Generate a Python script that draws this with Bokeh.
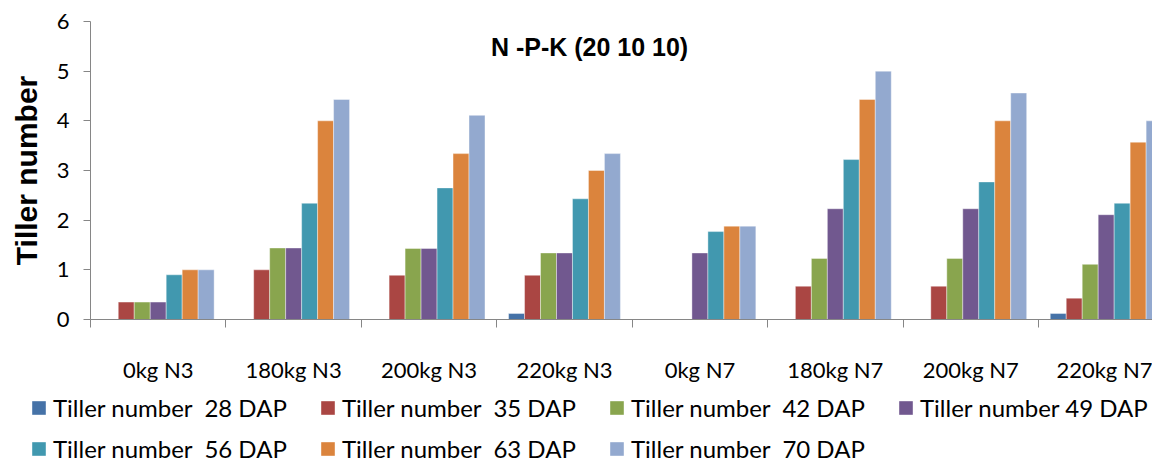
from bokeh.plotting import figure
from bokeh.layouts import column
from bokeh.models import Range1d, FixedTicker, Legend, LegendItem, Label, ColumnDataSource
from bokeh.embed import file_html
from bokeh.resources import INLINE

categories = ["0kg N3", "180kg N3", "200kg N3", "220kg N3",
              "0kg N7", "180kg N7", "200kg N7", "220kg N7"]
series_names = ["Tiller number  28 DAP", "Tiller number  35 DAP", "Tiller number  42 DAP",
                "Tiller number 49 DAP", "Tiller number  56 DAP", "Tiller number  63 DAP",
                "Tiller number  70 DAP"]
dap28 = [0, 0, 0, 0.12, 0, 0, 0, 0.12]
dap35 = [0.35, 1.0, 0.89, 0.89, 0, 0.67, 0.67, 0.43]
dap42 = [0.35, 1.44, 1.43, 1.34, 0, 1.23, 1.23, 1.11]
dap49 = [0.35, 1.44, 1.43, 1.34, 1.34, 2.23, 2.23, 2.11]
dap56 = [0.9, 2.34, 2.65, 2.43, 1.77, 3.22, 2.77, 2.34]
dap63 = [1.0, 4.0, 3.34, 3.0, 1.88, 4.43, 4.0, 3.57]
dap70 = [1.0, 4.43, 4.11, 3.34, 1.88, 5.0, 4.56, 4.0]
series = [dap28, dap35, dap42, dap49, dap56, dap63, dap70]
colors = ["#4572A7", "#AA4643", "#89A54E", "#71588F", "#4198AF", "#DB843D", "#93A9CF"]
title_text = "N -P-K (20 10 10)"
y_label = "Tiller number"

bar_w = 0.118
n = len(series)
centers = [i + 0.5 for i in range(len(categories))]

p = figure(width=1152, height=385, output_backend="svg", toolbar_location=None,
           x_range=Range1d(0, 7.842), y_range=Range1d(0, 6),
           min_border_left=90, min_border_right=0, min_border_top=21,
           min_border_bottom=64)
p.outline_line_color = None
p.grid.visible = False

sources = []
for j, vals in enumerate(series):
    xs = [c + (j - (n - 1) / 2) * bar_w for c in centers]
    src = ColumnDataSource(dict(x=xs, top=vals))
    sources.append(src)
    p.vbar(x="x", top="top", bottom=0, width=bar_w, source=src,
           fill_color=colors[j], line_color="white", line_alpha=0.5, line_width=0.8)

# x axis
xa = p.xaxis[0]
xa.ticker = FixedTicker(ticks=centers, minor_ticks=list(range(len(categories) + 1)))
xa.major_label_overrides = {c: lab for c, lab in zip(centers, categories)}
xa.major_tick_in = 0
xa.major_tick_out = 0
xa.minor_tick_in = 0
xa.minor_tick_out = 8
xa.minor_tick_line_color = "#868686"
xa.axis_line_color = "#868686"
xa.major_label_standoff = 28
xa.major_label_text_font = "Lato"
xa.major_label_text_font_size = "22px"
xa.major_label_text_color = "black"

# y axis
ya = p.yaxis[0]
ya.ticker = FixedTicker(ticks=[0, 1, 2, 3, 4, 5, 6])
ya.minor_tick_line_color = None
ya.major_tick_in = 0
ya.major_tick_out = 7
ya.major_tick_line_color = "#868686"
ya.axis_line_color = "#868686"
ya.major_label_standoff = 14
ya.major_label_text_font = "Lato"
ya.major_label_text_font_size = "22px"
ya.major_label_text_color = "black"
ya.axis_label = y_label
ya.axis_label_text_font = "Liberation Sans"
ya.axis_label_text_font_style = "bold"
ya.axis_label_text_font_size = "30px"
ya.axis_label_text_color = "black"
ya.axis_label_standoff = 11

# title inside plot area
p.add_layout(Label(x=3.685, y=5.49, text=title_text, text_align="center",
                   text_baseline="middle", text_font="Liberation Sans",
                   text_font_style="bold", text_font_size="25px", text_color="black"))

# legend strip (same data sources, drawn outside its visible range)
q = figure(width=1152, height=78, output_backend="svg", toolbar_location=None,
           x_range=Range1d(0, 7.842), y_range=Range1d(100, 101),
           min_border_left=0, min_border_right=0, min_border_top=0, min_border_bottom=0,
           x_axis_location=None, y_axis_location=None)
q.outline_line_color = None
q.grid.visible = False

for fig in (p, q):
    if "frame_align" in fig.properties():
        fig.frame_align = False

legend_renderers = []
for j in range(n):
    d = q.vbar(x="x", top="top", bottom=0, width=bar_w, source=sources[j],
               fill_color=colors[j], line_color=None)
    legend_renderers.append(d)

items = [LegendItem(label=name, renderers=[r]) for name, r in zip(series_names, legend_renderers)]

def make_legend(its, loc):
    return Legend(items=its, orientation="horizontal", location=loc,
                  border_line_color=None, background_fill_alpha=0, padding=0,
                  spacing=0, margin=0, glyph_width=17, glyph_height=17,
                  label_standoff=6, label_width=266, label_text_font="Lato",
                  label_text_font_size="24px", label_text_color="black")

q.add_layout(make_legend(items[:4], (30, 41)))
q.add_layout(make_legend(items[4:], (30, 0)))

layout = column(p, q, spacing=0)
open("out.html", "w").write(file_html(layout, INLINE))
